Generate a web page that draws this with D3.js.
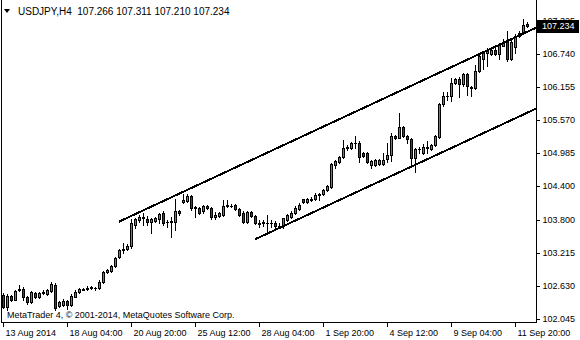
<!DOCTYPE html>
<html><head><meta charset="utf-8">
<script src="https://cdn.jsdelivr.net/npm/d3@7"></script>
<style>body{margin:0;background:#fff;} svg{display:block;}</style>
</head><body>
<svg id="c" width="580" height="340"></svg>
<script>
const headerText = "USDJPY,H4  107.266 107.311 107.210 107.234";
const copyrightText = "MetaTrader 4, \u00A9 2001-2014, MetaQuotes Software Corp.";
const open = [102.47,102.26,102.45,102.39,102.58,102.57,102.44,102.34,102.51,102.44,102.51,102.49,102.54,102.65,102.28,102.30,102.36,102.30,102.44,102.52,
102.56,102.57,102.60,102.59,102.59,102.70,102.87,102.90,102.98,103.14,103.26,103.28,103.33,103.71,103.80,103.84,103.82,103.77,103.79,103.82,
103.92,103.76,103.77,103.76,103.96,104.11,104.14,104.23,104.02,104.01,103.95,104.05,104.01,103.85,103.87,103.89,104.05,104.05,104.06,103.99,
103.93,103.77,103.94,103.87,103.74,103.75,103.74,103.75,103.75,103.70,103.71,103.80,103.86,103.93,104.00,104.17,104.12,104.16,104.17,104.25,
104.26,104.33,104.38,104.78,104.83,104.92,105.07,105.07,105.16,105.16,104.98,104.98,104.77,104.77,104.80,104.80,104.88,104.95,105.29,105.26,
105.44,105.29,105.23,104.89,105.05,104.98,105.07,105.06,105.13,105.27,105.85,106.00,105.99,106.23,106.29,106.21,106.38,106.16,106.14,106.44,
106.65,106.76,106.74,106.82,106.74,106.89,106.96,106.66,106.86,107.06,107.11,107.266];
const high = [102.50,102.48,102.47,102.55,102.65,102.61,102.46,102.54,102.53,102.52,102.55,102.57,102.70,102.68,102.37,102.40,102.38,102.48,102.55,102.59,
102.60,102.63,102.63,102.62,102.74,102.90,102.93,103.00,103.15,103.29,103.39,103.37,103.82,103.83,103.89,103.92,103.87,103.83,103.86,103.93,
103.95,103.80,103.86,104.18,103.97,104.26,104.26,104.25,104.05,104.03,104.07,104.07,104.03,103.94,103.94,104.15,104.15,104.08,104.08,104.01,
103.95,103.96,103.96,103.89,103.80,103.80,103.89,103.80,103.78,103.74,103.84,103.91,103.96,104.05,104.10,104.18,104.19,104.20,104.27,104.28,
104.35,104.42,104.81,104.87,104.94,105.22,105.12,105.18,105.29,105.19,105.00,105.00,104.87,104.88,104.88,104.98,105.16,105.34,105.31,105.69,
105.46,105.31,105.25,105.07,105.10,105.15,105.19,105.15,105.31,105.87,106.07,106.07,106.31,106.31,106.33,106.40,106.40,106.18,106.55,106.73,
106.80,106.84,106.85,106.84,106.93,107.01,107.14,107.00,107.10,107.14,107.36,107.311];
const low = [102.24,102.20,102.36,102.38,102.54,102.38,102.31,102.32,102.42,102.42,102.49,102.47,102.52,102.20,102.25,102.28,102.23,102.28,102.43,102.51,
102.55,102.55,102.58,102.56,102.58,102.69,102.86,102.88,102.96,103.12,103.21,103.26,103.30,103.65,103.76,103.71,103.71,103.57,103.77,103.75,
103.71,103.68,103.49,103.62,103.88,104.10,104.12,103.98,103.86,103.91,103.93,103.99,103.82,103.81,103.85,103.87,104.03,104.03,103.97,103.87,
103.75,103.75,103.85,103.72,103.67,103.70,103.57,103.68,103.66,103.65,103.66,103.78,103.84,103.91,103.98,104.10,104.10,104.14,104.15,104.15,
104.24,104.31,104.36,104.72,104.81,104.90,105.04,105.05,105.07,104.83,104.92,104.81,104.72,104.75,104.78,104.77,104.83,104.85,105.23,105.25,
105.27,105.16,104.77,104.65,104.98,104.96,104.98,105.04,105.11,105.25,105.82,105.92,105.90,106.20,105.98,106.17,106.01,105.99,106.12,106.42,
106.48,106.53,106.72,106.72,106.65,106.88,106.62,106.63,106.75,107.04,107.09,107.210];
const close = [102.26,102.45,102.38,102.54,102.56,102.43,102.34,102.52,102.44,102.51,102.52,102.55,102.66,102.24,102.35,102.37,102.29,102.46,102.52,102.57,
102.58,102.60,102.61,102.59,102.70,102.88,102.91,102.98,103.13,103.27,103.29,103.34,103.74,103.81,103.85,103.85,103.77,103.81,103.84,103.91,
103.74,103.77,103.78,103.96,103.92,104.15,104.23,104.01,104.03,103.93,104.05,104.01,103.85,103.89,103.92,104.05,104.06,104.05,103.99,103.89,
103.77,103.94,103.87,103.74,103.72,103.76,103.75,103.74,103.69,103.68,103.83,103.89,103.93,104.02,104.07,104.12,104.17,104.18,104.25,104.26,
104.33,104.40,104.79,104.85,104.92,105.08,105.09,105.16,105.17,104.92,104.94,104.83,104.85,104.86,104.86,104.87,104.95,105.29,105.25,105.44,
105.29,105.23,104.89,105.05,105.06,105.10,105.10,105.13,105.29,105.85,105.99,106.00,106.22,106.29,106.20,106.38,106.17,106.13,106.44,106.71,
106.76,106.80,106.82,106.74,106.90,106.96,106.65,106.96,107.06,107.11,107.26,107.234];
const timeTickIndex = [0,16,32,48,64,80,96,112,128];
const timeTickLabels = ["13 Aug 2014","18 Aug 04:00","20 Aug 20:00","25 Aug 12:00","28 Aug 04:00","1 Sep 20:00","4 Sep 12:00","9 Sep 04:00","11 Sep 20:00"];
const priceTicks = [107.325,106.740,106.155,105.570,104.985,104.400,103.800,103.215,102.630,102.045];
const channelUpper = [[29,103.77],[133.5,107.214]];
const channelLower = [[63,103.457],[133.5,105.78]];
const lastPrice = 107.234;

const bullColor = "#00cc00", bearColor = "#e00000";
const svg = d3.select("#c");
const plotRight = 537, plotBottom = 322;
const x = d3.scaleLinear().domain([0, 131]).range([3, 527]);
const y = d3.scaleLinear().domain([102.045, 107.325]).range([319, 21]);

svg.append("rect").attr("width",580).attr("height",340).attr("fill","#fff");

svg.append("defs").append("clipPath").attr("id","plot")
  .append("rect").attr("x",2).attr("y",0).attr("width",plotRight-2).attr("height",plotBottom);

const bars = d3.range(open.length).map(i => ({i, o:open[i], h:high[i], l:low[i], c:close[i]}));
const g = svg.append("g").attr("clip-path","url(#plot)").attr("shape-rendering","crispEdges");

g.selectAll("line.wick").data(bars).join("line").attr("class","wick")
  .attr("x1", d => Math.round(x(d.i)) + 0.5).attr("x2", d => Math.round(x(d.i)) + 0.5)
  .attr("y1", d => Math.round(y(d.h))).attr("y2", d => Math.round(y(d.l)) + 1)
  .attr("stroke","#000").attr("stroke-width",1);

bars.forEach(d => {
  const cx = Math.round(x(d.i));
  const top = Math.round(y(Math.max(d.o, d.c)));
  const bot = Math.round(y(Math.min(d.o, d.c)));
  if (bot - top < 1) {
    g.append("line").attr("x1", cx - 1).attr("x2", cx + 2)
      .attr("y1", top + 0.5).attr("y2", top + 0.5).attr("stroke","#000");
  } else {
    g.append("rect").attr("x", cx - 0.5).attr("y", top + 0.5)
      .attr("width", 2).attr("height", bot - top)
      .attr("fill", d.c >= d.o ? bullColor : bearColor)
      .attr("stroke","#000").attr("stroke-width",1);
  }
});

const line = d3.line().x(d => x(d[0])).y(d => y(d[1]));
[channelUpper, channelLower].forEach(ch => {
  g.append("path").attr("d", line(ch)).attr("fill","none")
   .attr("stroke","#000").attr("stroke-width",2);
});

// frame
svg.append("g").attr("shape-rendering","crispEdges").selectAll("line")
  .data([[1.5,0,1.5,plotBottom+0.5],[plotRight-0.5,0,plotRight-0.5,plotBottom+0.5],[1,plotBottom+0.5,plotRight,plotBottom+0.5]])
  .join("line").attr("x1",d=>d[0]).attr("y1",d=>d[1]).attr("x2",d=>d[2]).attr("y2",d=>d[3])
  .attr("stroke","#000");

const font = "'Liberation Sans', Arial, sans-serif";
// price axis
const ya = svg.append("g").attr("transform",`translate(${plotRight-0.5},0)`)
  .call(d3.axisRight(y).tickValues(priceTicks).tickFormat(d => d.toFixed(3)).tickSize(3).tickPadding(3));
ya.select(".domain").remove();
ya.selectAll("line").attr("shape-rendering","crispEdges");
ya.selectAll("text").attr("font-family",font).attr("font-size",9).attr("fill","#000");

// time axis
const xa = svg.append("g").attr("transform",`translate(0,${plotBottom})`)
  .call(d3.axisBottom(x).tickValues(timeTickIndex).tickFormat((d,i) => timeTickLabels[i]).tickSize(5).tickPadding(3));
xa.select(".domain").remove();
xa.selectAll("line").attr("shape-rendering","crispEdges");
xa.selectAll("text").attr("font-family",font).attr("font-size",9).attr("fill","#000")
  .attr("text-anchor","start").attr("x",2);

// last price box
const ly = Math.round(y(lastPrice));
svg.append("rect").attr("x",plotRight).attr("y",ly-6).attr("width",42).attr("height",13).attr("fill","#000");
svg.append("text").attr("x",plotRight+5).attr("y",ly).attr("dy","0.35em")
  .attr("font-family",font).attr("font-size",9).attr("fill","#fff").text(lastPrice.toFixed(3));

// header
svg.append("path").attr("d","M4,9L10,9L7,13Z").attr("fill","#000");
svg.append("text").attr("x",18).attr("y",15).attr("font-family",font).attr("font-size",10)
  .attr("fill","#000").attr("xml:space","preserve").style("white-space","pre").text(headerText);
svg.append("text").attr("x",7).attr("y",318).attr("font-family",font).attr("font-size",9)
  .attr("fill","#000").text(copyrightText);
</script>
</body></html>
